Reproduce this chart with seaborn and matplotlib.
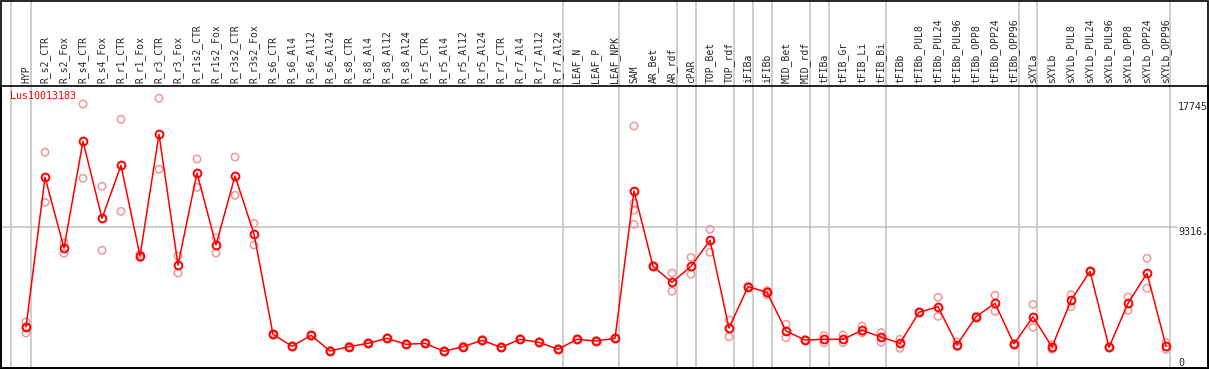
import numpy as np
import pandas as pd
import matplotlib
matplotlib.use("Agg")
import matplotlib.pyplot as plt
from matplotlib.patches import Rectangle
import seaborn as sns

categories = ["HYP", "R_s2_CTR", "R_s2_Fox", "R_s4_CTR", "R_s4_Fox", "R_r1_CTR", "R_r1_Fox",
              "R_r3_CTR", "R_r3_Fox", "R_r1s2_CTR", "R_r1s2_Fox", "R_r3s2_CTR", "R_r3s2_Fox",
              "R_s6_CTR", "R_s6_Al4", "R_s6_Al12", "R_s6_Al24", "R_s8_CTR", "R_s8_Al4",
              "R_s8_Al12", "R_s8_Al24", "R_r5_CTR", "R_r5_Al4", "R_r5_Al12", "R_r5_Al24",
              "R_r7_CTR", "R_r7_Al4", "R_r7_Al12", "R_r7_Al24", "LEAF_N", "LEAF_P", "LEAF_NPK",
              "SAM", "AR_Bet", "AR_rdf", "cPAR", "TOP_Bet", "TOP_rdf", "iFIBa", "iFIBb",
              "MID_Bet", "MID_rdf", "tFIBa", "tFIB_Gr", "tFIB_Li", "tFIB_Bi", "tFIBb",
              "tFIBb_PUL8", "tFIBb_PUL24", "tFIBb_PUL96", "tFIBb_OPP8", "tFIBb_OPP24",
              "tFIBb_OPP96", "sXYLa", "sXYLb", "sXYLb_PUL8", "sXYLb_PUL24", "sXYLb_PUL96",
              "sXYLb_OPP8", "sXYLb_OPP24", "sXYLb_OPP96"]

mean_values = [2621, 12684, 7931, 15104, 9928, 13490, 7394, 15574, 6789, 12973, 8133, 12771, 8873,
               2131, 1324, 2064, 1008, 1297, 1526, 1862, 1459, 1526, 988, 1297, 1727, 1257, 1795,
               1593, 1123, 1795, 1680, 1862, 11763, 6701, 5626, 6701, 8449, 2554, 5330, 4954,
               2353, 1748, 1795, 1795, 2400, 1949, 1526, 3609, 3986, 1432, 3314, 4215, 1479,
               3314, 1277, 4416, 6365, 1257, 4215, 6231, 1344]

rep1_values = [2957, 14364, 8288, 17611, 12079, 16582, 7528, 17994, 7394, 13914, 8624, 14048, 9592,
               2180, 1370, 2110, 1050, 1340, 1570, 1900, 1500, 1570, 1030, 1340, 1770, 1300, 1840,
               1640, 1170, 1840, 1720, 1900, 16132, 6750, 6251, 7306, 9188, 3092, 5370, 5061,
               2803, 1780, 2037, 2084, 2689, 2238, 1795, 3650, 4618, 1633, 3350, 4752, 1520,
               4147, 1430, 4793, 6400, 1300, 4638, 7239, 1566]

rep2_values = [2218, 11003, 7575, 12617, 7777, 10398, 7280, 13222, 6251, 12012, 7595, 11474, 8133,
               2080, 1280, 2020, 970, 1250, 1480, 1820, 1420, 1480, 950, 1250, 1680, 1210, 1750,
               1550, 1080, 1750, 1640, 1820, 10936, 6650, 5021, 6164, 7643, 1969, 5290, 4793,
               1902, 1720, 1566, 1566, 2238, 1593, 1190, 3570, 3341, 1297, 3280, 3677, 1440,
               2601, 1123, 3986, 6330, 1210, 3744, 5223, 1123]

extra_rep_categories = ["HYP", "SAM", "SAM"]
extra_rep_values = [2621, 10485, 9524]

group_lines = [-0.79, 0.26, 28.26, 31.2, 34.26, 35.26, 37.26, 38.26, 39.26, 41.26, 42.26,
               45.26, 52.26, 53.2, 60.2]
ytick_values = [0, 9316, 17745]
ytick_labels = ["0", "9316.", "17745"]
gene_name = "Lus10013183"

W, H = 1209, 370
sns.set_style("white")
plt.rcParams["font.family"] = ["DejaVu Sans Mono"]

fig = plt.figure(figsize=(W / 100, H / 100), dpi=100)
ax_l, ax_r, ax_top, ax_bot = 1, 1208, 86, 368
ax = fig.add_axes([ax_l / W, (H - ax_bot) / H, (ax_r - ax_l) / W, (ax_bot - ax_top) / H])

pos = {c: i for i, c in enumerate(categories)}
x = np.arange(len(categories))

reps = pd.DataFrame({
    "x": np.concatenate([x, x, [pos[c] for c in extra_rep_categories]]),
    "y": np.concatenate([rep1_values, rep2_values, extra_rep_values]),
})
means = pd.DataFrame({"x": x, "y": mean_values})

# axis limits chosen from pixel geometry
ax.set_xlim((ax_l - 26) / 19, (ax_r - 26) / 19)
ypx = 17745 / 264.0
ax.set_ylim((366 - ax_bot) * ypx, (366 - ax_top) * ypx)

grid_col = "#c0c0c0"
for gx in group_lines:
    ax.axvline(gx, ymin=0, ymax=(ax_bot - 0) / (ax_bot - ax_top), color=grid_col,
               lw=1.1, clip_on=False, zorder=0.5)
ax.axhline(9316, xmin=0, xmax=(1177 - ax_l) / (ax_r - ax_l), color=grid_col, lw=1.1, zorder=0.5)

sns.scatterplot(data=reps, x="x", y="y", ax=ax, marker="o", s=28, facecolors="none",
                edgecolor="#f09898", linewidth=1.1, zorder=2, legend=False)
sns.lineplot(data=means, x="x", y="y", ax=ax, color="#ff0000", lw=1.1, marker="o",
             markersize=5.6, markerfacecolor="none", markeredgecolor="#ff0000",
             markeredgewidth=1.4, zorder=3, legend=False)

ax.set_xlabel("")
ax.set_ylabel("")
ax.xaxis.tick_top()
ax.set_xticks(x)
ax.set_xticklabels(categories, rotation=90, fontsize=7, va="bottom", ha="center")
ax.tick_params(axis="x", length=0, pad=2.2)

ax.yaxis.tick_right()
ax.set_yticks(ytick_values)
ax.set_yticklabels(ytick_labels, fontsize=7.2)
ax.tick_params(axis="y", length=0, pad=-21.6)
for lab in ax.get_yticklabels():
    lab.set_ha("left")
    lab.set_va("baseline" if lab.get_text() == "0" else "top")

for s in ax.spines.values():
    s.set_color("black")
    s.set_linewidth(1.2)
    s.set_zorder(4)

ax.text((10 - ax_l) / (ax_r - ax_l), 1 - (91 - ax_top) / (ax_bot - ax_top), gene_name,
        transform=ax.transAxes, color="#ff0000", fontsize=7.2, ha="left", va="top")

fig.add_artist(Rectangle((0.5 / W, (H - ax_bot) / H), (ax_r - 0.5) / W, (ax_bot - 0.6) / H,
                         transform=fig.transFigure, fill=False, edgecolor="black", lw=1.2))

fig.savefig("out.png", dpi=100)
